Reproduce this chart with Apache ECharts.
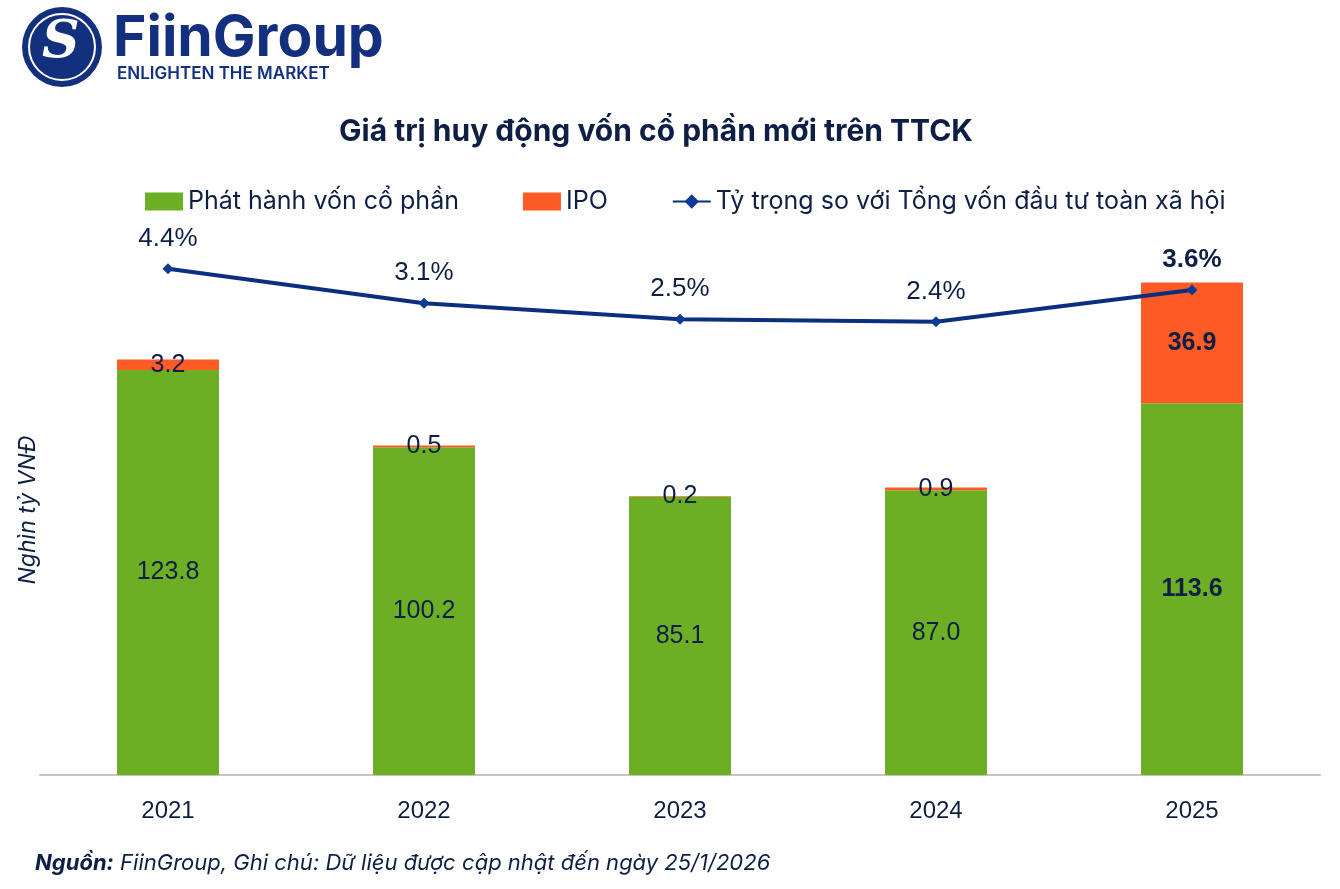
<!DOCTYPE html>
<html><head><meta charset="utf-8">
<script src="https://cdn.jsdelivr.net/npm/echarts@6/dist/echarts.min.js"></script>
<style>html,body{margin:0;padding:0;background:#fff}#c{width:1340px;height:889px}</style>
</head><body><div id="c"></div>
<script>
const categories = ['2021','2022','2023','2024','2025'];
const equityIssuance = [123.8, 100.2, 85.1, 87.0, 113.6];
const ipo = [3.2, 0.5, 0.2, 0.9, 36.9];
const shareOfInvestment = [4.4, 3.1, 2.5, 2.4, 3.6];
const legendNames = ['Phát hành vốn cổ phần', 'IPO', 'Tỷ trọng so với Tổng vốn đầu tư toàn xã hội'];

const NAVY = '#0e1e45';
const FONT = 'Inter, "Noto Sans", sans-serif';
const NUMFONT = '"Liberation Sans", Arial, sans-serif';
const lastIdx = categories.length - 1;

function barData(arr) {
  return arr.map((v, i) => ({
    value: v,
    label: i === lastIdx ? { fontWeight: 'bold' } : {}
  }));
}

const chart = echarts.init(document.getElementById('c'), null, { renderer: 'canvas' });
chart.setOption({
  backgroundColor: '#fff',
  animation: false,
  title: {
    text: 'Giá trị huy động vốn cổ phần mới trên TTCK',
    left: 334, top: 112,
    textStyle: { fontFamily: FONT, fontSize: 30, fontWeight: 'bold', color: NAVY }
  },
  legend: {
    top: 184, left: 140,
    itemGap: 64,
    itemWidth: 38, itemHeight: 18,
    textStyle: { fontFamily: FONT, fontSize: 25, color: NAVY },
    data: [
      { name: legendNames[0], icon: 'rect' },
      { name: legendNames[1], icon: 'rect' },
      { name: legendNames[2] }
    ]
  },
  grid: { left: 40, right: 20, top: 245, bottom: 114, containLabel: false },
  xAxis: {
    type: 'category', data: categories,
    axisLine: { lineStyle: { color: '#c4c4c4', width: 2 } },
    axisTick: { show: false },
    axisLabel: { fontFamily: NUMFONT, fontSize: 24, color: NAVY, margin: 24 }
  },
  yAxis: [
    { type: 'value', min: 0, max: 162, show: true,
      name: 'Nghìn tỷ VNĐ', nameLocation: 'middle', nameGap: 0,
      nameRotate: 90,
      nameTextStyle: { fontFamily: FONT, fontSize: 23, fontStyle: 'italic', color: NAVY },
      axisLine: { show: false }, axisTick: { show: false }, axisLabel: { show: false }, splitLine: { show: false } },
    { type: 'value', min: -14.7, max: 5.3, show: false, splitLine: { show: false } }
  ],
  series: [
    {
      name: legendNames[0], type: 'bar', stack: 'tot', barWidth: 102,
      itemStyle: { color: '#6daf24' },
      label: { show: true, position: 'inside', fontFamily: NUMFONT, fontSize: 25, color: NAVY,
        formatter: p => p.value.toFixed(1) },
      data: barData(equityIssuance)
    },
    {
      name: legendNames[1], type: 'bar', stack: 'tot', barWidth: 102,
      itemStyle: { color: '#ff5b27' },
      label: { show: true, position: 'inside', fontFamily: NUMFONT, fontSize: 25, color: NAVY,
        formatter: p => p.value.toFixed(1) },
      data: barData(ipo)
    },
    {
      name: legendNames[2], type: 'line', yAxisIndex: 1,
      symbol: 'diamond', symbolSize: 11,
      lineStyle: { color: '#0b2f7e', width: 4 },
      itemStyle: { color: '#0b3a94' },
      label: { show: true, position: 'top', distance: 12, fontFamily: NUMFONT, fontSize: 26, color: NAVY,
        formatter: p => p.value.toFixed(1) + '%' },
      data: shareOfInvestment.map((v, i) => ({ value: v, label: i === lastIdx ? { fontWeight: 'bold' } : {} })),
      z: 5
    }
  ],
  graphic: [
    { type: 'circle', shape: { cx: 62, cy: 47, r: 40 }, style: { fill: '#13307f' } },
    { type: 'circle', shape: { cx: 62, cy: 47, r: 33 }, style: { fill: 'none', stroke: '#fff', lineWidth: 2 } },
    { type: 'text', left: 42, top: 17, style: { text: 'S', font: 'italic bold 52px "DejaVu Serif", serif', fill: '#fff' } },
    { type: 'text', left: 113, top: 10, style: { text: 'FiinGroup', font: 'bold 57px Inter, "Noto Sans", sans-serif', fill: '#13307f' } },
    { type: 'text', left: 117, top: 65, style: { text: 'ENLIGHTEN THE MARKET', font: '600 17px Inter, "Noto Sans", sans-serif', fill: '#13307f' } },
    { type: 'text', left: 35, top: 852, style: {
      rich: {
        b: { font: 'italic bold 22px Inter, "Noto Sans", sans-serif', fill: NAVY },
        n: { font: 'italic 22px Inter, "Noto Sans", sans-serif', fill: NAVY }
      },
      text: '{b|Nguồn:}{n| FiinGroup, Ghi chú: Dữ liệu được cập nhật đến ngày 25/1/2026}'
    } }
  ]
});
</script></body></html>
